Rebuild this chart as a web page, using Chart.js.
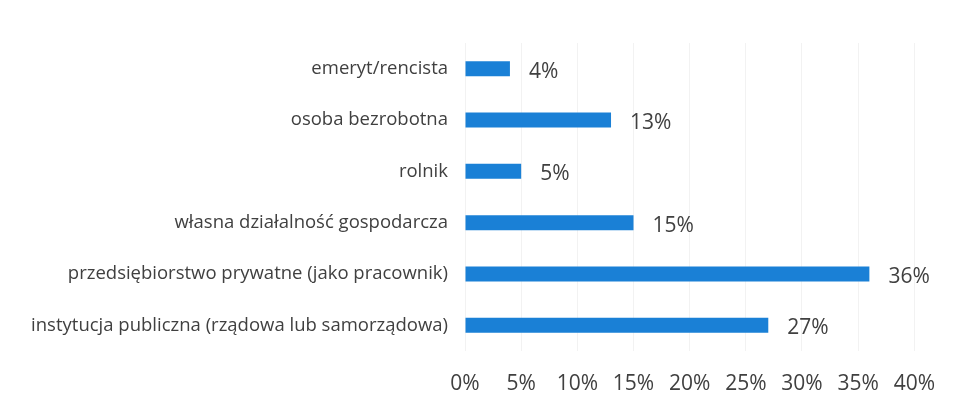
<!DOCTYPE html>
<html>
<head>
  <meta charset="UTF-8">
  <title>Status zawodowy</title>
  <script src="https://cdn.jsdelivr.net/npm/chart.js@4.4.1/dist/chart.umd.min.js"></script>
  <style>
    html, body { margin: 0; padding: 0; background: #fff; }
    .chart-container { position: relative; width: 955px; height: 406px; }
  </style>
</head>
<body>
  <div class="chart-container">
    <canvas id="bar-chart"></canvas>
  </div>
  <script>
    var categories = [
      'emeryt/rencista',
      'osoba bezrobotna',
      'rolnik',
      'własna działalność gospodarcza',
      'przedsiębiorstwo prywatne (jako pracownik)',
      'instytucja publiczna (rządowa lub samorządowa)'
    ];
    var values = [4, 13, 5, 15, 36, 27];
    var tickValues = [0, 5, 10, 15, 20, 25, 30, 35, 40];

    var textColor = '#404040';
    var fontFamily = "'Open Sans', sans-serif";

    // etykiety wartości na końcu słupków
    var valueLabels = {
      id: 'valueLabels',
      afterDatasetsDraw: function(chart) {
        var ctx = chart.ctx;
        var meta = chart.getDatasetMeta(0);
        ctx.save();
        ctx.font = '21px ' + fontFamily;
        ctx.fillStyle = textColor;
        ctx.textAlign = 'left';
        ctx.textBaseline = 'middle';
        meta.data.forEach(function(bar, i) {
          ctx.fillText(values[i] + '%', bar.x + 19, bar.y + 3);
        });
        ctx.restore();
      }
    };

    new Chart(document.getElementById('bar-chart'), {
      type: 'bar',
      data: {
        labels: categories,
        datasets: [{
          data: values,
          backgroundColor: '#1a80d6',
          borderWidth: 0,
          barPercentage: 0.584,
          categoryPercentage: 0.5
        }]
      },
      options: {
        indexAxis: 'y',
        responsive: true,
        maintainAspectRatio: false,
        animation: false,
        layout: { padding: { top: 43, right: 37, bottom: 0, left: 0 } },
        plugins: {
          legend: { display: false },
          tooltip: { enabled: false }
        },
        scales: {
          x: {
            min: 0,
            max: 40,
            afterBuildTicks: function(scale) {
              scale.ticks = tickValues.map(function(v) { return { value: v }; });
            },
            afterFit: function(scale) { scale.height = 55; },
            ticks: {
              padding: 20,
              color: textColor,
              font: { family: fontFamily, size: 21 },
              callback: function(v) { return v + '%'; }
            },
            grid: { color: '#f2f2f2', drawTicks: false },
            border: { display: false }
          },
          y: {
            afterFit: function(scale) { scale.width = 465; },
            ticks: {
              padding: 9,
              color: textColor,
              font: { family: fontFamily, size: 18.5 }
            },
            grid: { display: false },
            border: { display: false }
          }
        }
      },
      plugins: [valueLabels]
    });
  </script>
</body>
</html>
